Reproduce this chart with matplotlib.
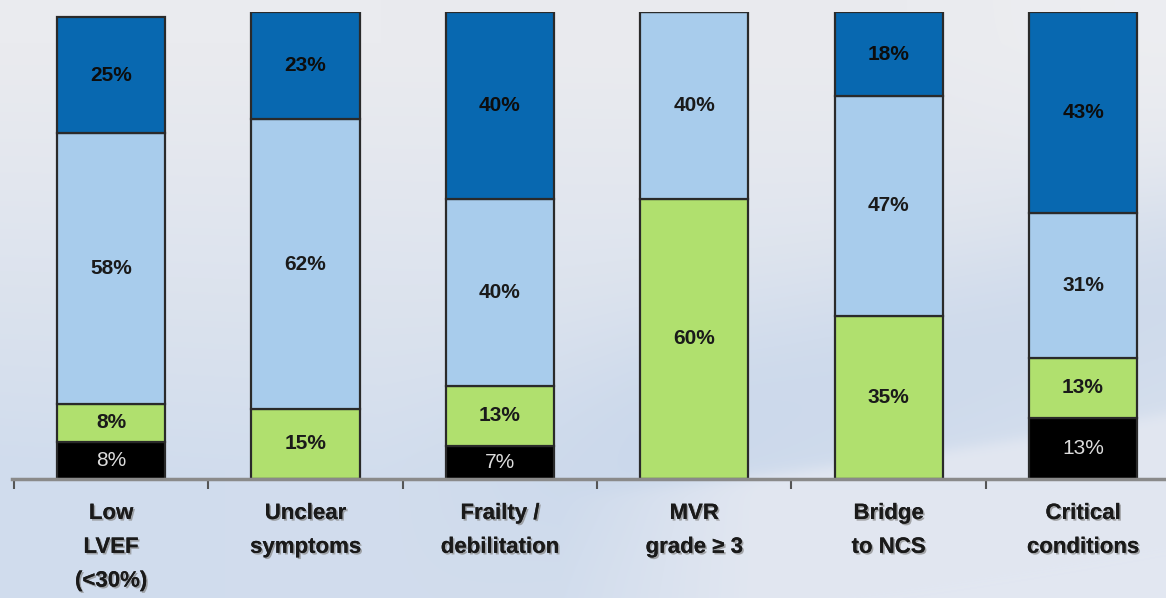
import numpy as np
import matplotlib
matplotlib.use("Agg")
import matplotlib.pyplot as plt
import matplotlib.patheffects as pe

# Indications and share of patients per outcome group (percent)
categories = ["Low\nLVEF\n(<30%)", "Unclear\nsymptoms", "Frailty /\ndebilitation",
              "MVR\ngrade \u2265 3", "Bridge\nto NCS", "Critical\nconditions"]
black_vals = [8, 0, 7, 0, 0, 13]
green_vals = [8, 15, 13, 60, 35, 13]
light_vals = [58, 62, 40, 40, 47, 31]
dark_vals = [25, 23, 40, 0, 18, 43]

series = [
    (black_vals, "#000000", "#dcdcdc", "normal"),
    (green_vals, "#b0e06e", "#1a1a1a", "bold"),
    (light_vals, "#a8ccec", "#1a1a1a", "bold"),
    (dark_vals, "#0868b0", "#0d0d0d", "bold"),
]

W, H = 1166, 598
fig = plt.figure(figsize=(W / 100, H / 100), dpi=100)

# soft slide-style backdrop
yy, xx = np.mgrid[0:H, 0:W].astype(float)
t = yy / H
top_c = np.array([234, 235, 239], float)
bot_c = np.array([208, 220, 237], float)
w_blue = np.clip(t * 1.4 - 0.1, 0, 1) ** 1.1
w_blue = w_blue * (0.8 + 0.2 * (1 - xx / W))
img = top_c[None, None, :] * (1 - w_blue[..., None]) + bot_c[None, None, :] * w_blue[..., None]
# darker blue swoosh in the lower middle / right
sw = np.exp(-((yy - (470 - 0.25 * (xx - 500))) / 110) ** 2) * np.clip((xx - 380) / 250, 0, 1)
blue2 = np.array([198, 213, 234], float)
img = img * (1 - 0.6 * sw[..., None]) + blue2 * 0.6 * sw[..., None]
# light arc at the bottom right
y_arc = 482 - 0.11 * (xx - 700) - 0.00008 * (xx - 700) ** 2
arc = 1 / (1 + np.exp(-(yy - y_arc) / 4)) * np.clip((xx - 560) / 200, 0, 1)
light = np.array([226, 231, 241], float)
img = img * (1 - arc[..., None]) + light * arc[..., None]
# pale upper right corner
cr = np.clip(1 - np.hypot((xx - 1166) / 260, yy / 220), 0, 1)
img = img * (1 - 0.5 * cr[..., None]) + np.array([240, 241, 244.0]) * 0.5 * cr[..., None]

bg = fig.add_axes([0, 0, 1, 1], zorder=-10)
bg.imshow(img.astype(np.uint8), aspect="auto", extent=[0, W, H, 0])
bg.axis("off")

left = 12 / W
bottom = (H - 479) / H
top = (H - 12) / H
ax = fig.add_axes([left, bottom, 1 - left, top - bottom])
ax.patch.set_alpha(0)

x = np.arange(len(categories))
bar_w = 0.556
base = np.zeros(len(categories))
for vals, color, tcolor, weight in series:
    v = np.array(vals, float)
    ax.bar(x, v, bar_w, bottom=base, color=color, edgecolor="#2a2a2a",
           linewidth=1.6, zorder=3)
    for xi, b, val in zip(x, base, v):
        if val > 0:
            ax.text(xi, b + val / 2, f"{int(val)}%", ha="center", va="center",
                    fontsize=15, fontweight=weight, color=tcolor,
                    family="Liberation Sans", zorder=4)
    base = base + v

ax.set_xlim(-0.51, (W - 111) / 194.4)
ax.set_ylim(0, 100)
for s in ["top", "right", "left"]:
    ax.spines[s].set_visible(False)
ax.spines["bottom"].set_color("#8a8a8a")
ax.spines["bottom"].set_linewidth(2.5)
ax.spines["bottom"].set_zorder(5)
ax.set_yticks([])
ax.set_xticks(x)
ax.set_xticklabels([])
ax.tick_params(axis="x", which="major", length=0)
ax.set_xticks(np.arange(-0.5, len(categories) - 0.5, 1.0), minor=True)
ax.tick_params(axis="x", which="minor", length=7, width=1.5, color="#555555",
               direction="out")

shadow = [pe.withSimplePatchShadow(offset=(1.2, -1.2), shadow_rgbFace="#888888", alpha=0.7),
          pe.Normal()]
for xi, lab in zip(x, categories):
    ax.annotate(lab, xy=(xi, 0), xycoords=("data", "axes fraction"),
                xytext=(0, -24), textcoords="offset pixels",
                ha="center", va="top", fontsize=16, fontweight="bold",
                family="Liberation Sans", color="#1a1a1a",
                linespacing=1.8, path_effects=shadow, annotation_clip=False)

fig.savefig("out.png", dpi=100)
